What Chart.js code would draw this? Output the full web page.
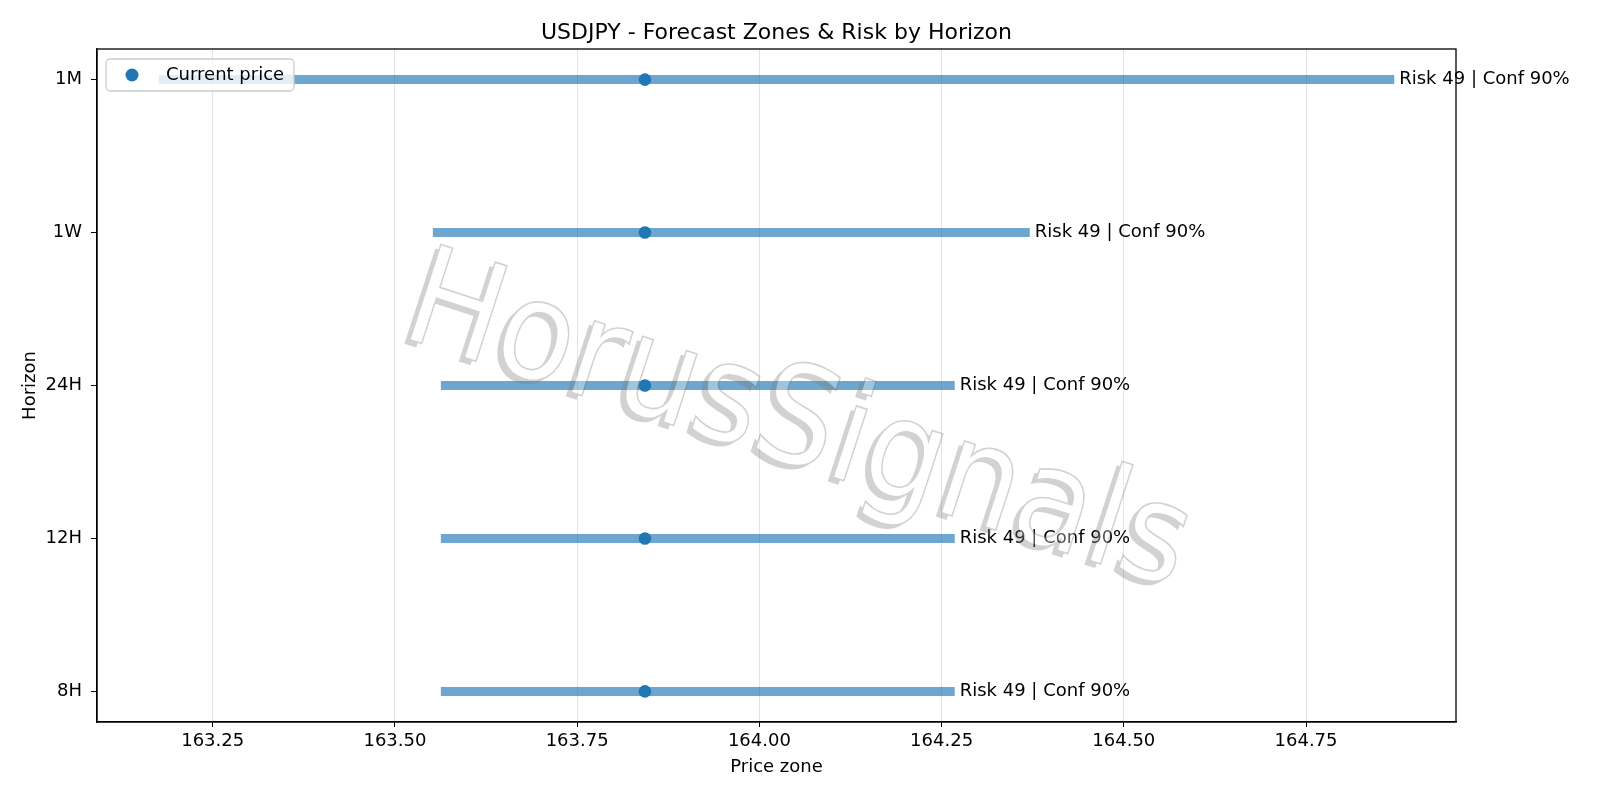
<!DOCTYPE html>
<html>
<head>
<meta charset="utf-8">
<script src="https://cdn.jsdelivr.net/npm/chart.js@4.4.1/dist/chart.umd.min.js"></script>
<style>
  html, body { margin: 0; padding: 0; background: #fff; }
  #wrap { width: 1600px; height: 800px; }
</style>
</head>
<body>
<div id="wrap"><canvas id="chart" width="1600" height="800"></canvas></div>
<script>
// horizons, bottom to top
const horizons = ["8H", "12H", "24H", "1W", "1M"];
const zone_low = [163.563, 163.563, 163.563, 163.552, 163.176];
const zone_high = [164.268, 164.268, 164.268, 164.371, 164.871];
const current_price = [163.843, 163.843, 163.843, 163.843, 163.843];
const risk = [49, 49, 49, 49, 49];
const conf = [90, 90, 90, 90, 90];
const x_ticks = [163.25, 163.5, 163.75, 164.0, 164.25, 164.5, 164.75];
const title = "USDJPY - Forecast Zones & Risk by Horizon";

const FONT = "'DejaVu Sans', 'Liberation Sans', sans-serif";
const BLUE = "#1f77b4";
const ZONE = "rgba(31, 119, 180, 0.65)";

// matplotlib style 5% margins
const lo = Math.min(...zone_low);
const hi = Math.max(...zone_high);
const x_min = lo - (hi - lo) * 0.05;
const x_max = hi + (hi - lo) * 0.05;

const zone_sets = horizons.map((h, i) => ({
  label: h,
  type: "line",
  data: [
    { x: zone_low[i], y: i },
    { x: zone_high[i], y: i },
  ],
  borderColor: ZONE,
  borderWidth: 9,
  borderCapStyle: "butt",
  pointRadius: 0,
  showLine: true,
  order: 2,
}));

const price_set = {
  label: "Current price",
  data: horizons.map((h, i) => ({ x: current_price[i], y: i })),
  backgroundColor: BLUE,
  borderWidth: 0,
  pointRadius: 6.3,
  order: 1,
};

// title, risk labels, frame, legend and watermark
const extras = {
  id: "extras",
  afterDraw(chart) {
    const ctx = chart.ctx;
    const xs = chart.scales.x;
    const ys = chart.scales.y;
    const a = chart.chartArea;

    ctx.save();
    ctx.fillStyle = "#000";
    ctx.textBaseline = "middle";
    ctx.textAlign = "center";
    ctx.font = "22px " + FONT;
    ctx.fillText(title, (a.left + a.right) / 2, 33);

    ctx.font = "18px " + FONT;
    ctx.textAlign = "left";
    horizons.forEach((h, i) => {
      ctx.fillText(
        "Risk " + risk[i] + " | Conf " + conf[i] + "%",
        xs.getPixelForValue(zone_high[i]) + 5,
        ys.getPixelForValue(i)
      );
    });

    // full box
    ctx.strokeStyle = "#000";
    ctx.lineWidth = 1.3;
    ctx.strokeRect(a.left, a.top, a.right - a.left, a.bottom - a.top);

    // legend
    const lx = a.left + 9, ly = a.top + 10, lw = 188, lh = 32;
    ctx.beginPath();
    ctx.roundRect(lx, ly, lw, lh, 4);
    ctx.fillStyle = "rgba(255,255,255,0.8)";
    ctx.fill();
    ctx.strokeStyle = "#cccccc";
    ctx.lineWidth = 1.3;
    ctx.stroke();
    ctx.beginPath();
    ctx.arc(lx + 26, ly + 16, 6.5, 0, Math.PI * 2);
    ctx.fillStyle = BLUE;
    ctx.fill();
    ctx.fillStyle = "#000";
    ctx.fillText("Current price", lx + 60, ly + 16);
    ctx.restore();

    // watermark, built on its own layer then blended
    const wm = document.createElement("canvas");
    wm.width = chart.width;
    wm.height = chart.height;
    const w = wm.getContext("2d");
    w.translate(797, 428);
    w.rotate((18 * Math.PI) / 180);
    w.scale(1, 1.1);
    w.font = "125px " + FONT;
    w.textAlign = "center";
    w.textBaseline = "middle";
    w.fillStyle = "rgb(120,120,120)";
    w.fillText("HorusSignals", -4, 5);
    w.fillStyle = "#fff";
    w.fillText("HorusSignals", 0, 0);
    w.strokeStyle = "rgb(120,120,120)";
    w.lineWidth = 1.5;
    w.strokeText("HorusSignals", 0, 0);
    ctx.save();
    ctx.globalAlpha = 0.33;
    ctx.drawImage(wm, 0, 0);
    ctx.restore();
  },
};

new Chart(document.getElementById("chart"), {
  type: "scatter",
  data: { datasets: [...zone_sets, price_set] },
  plugins: [extras],
  options: {
    responsive: false,
    animation: false,
    layout: { padding: { left: 0, right: 144, top: 49, bottom: 0 } },
    plugins: {
      legend: { display: false },
      tooltip: { enabled: false },
      title: { display: false },
    },
    scales: {
      x: {
        type: "linear",
        min: x_min,
        max: x_max,
        afterBuildTicks: (s) => {
          s.ticks = x_ticks.map((v) => ({ value: v }));
        },
        afterFit: (s) => {
          s.height = 78;
        },
        ticks: {
          color: "#000",
          font: { family: FONT, size: 18 },
          padding: 4,
          maxRotation: 0,
          callback: (v) => v.toFixed(2),
        },
        grid: { color: "#e3e3e3", lineWidth: 1, tickColor: "#000", tickLength: 5 },
        border: { color: "#000", width: 1.3 },
        title: {
          display: true,
          text: "Price zone",
          color: "#000",
          font: { family: FONT, size: 18 },
          padding: { top: 0, bottom: 22 },
        },
      },
      y: {
        type: "linear",
        min: -0.2,
        max: 4.2,
        afterBuildTicks: (s) => {
          s.ticks = horizons.map((h, i) => ({ value: i }));
        },
        afterFit: (s) => {
          s.width = 97;
        },
        ticks: {
          color: "#000",
          font: { family: FONT, size: 18 },
          padding: 9,
          callback: (v) => horizons[v],
        },
        grid: { drawOnChartArea: false, tickColor: "#000", tickLength: 6 },
        border: { color: "#000", width: 1.3 },
        title: {
          display: true,
          text: "Horizon",
          color: "#000",
          font: { family: FONT, size: 18 },
          padding: { top: 20, bottom: 0 },
        },
      },
    },
  },
});
</script>
</body>
</html>
